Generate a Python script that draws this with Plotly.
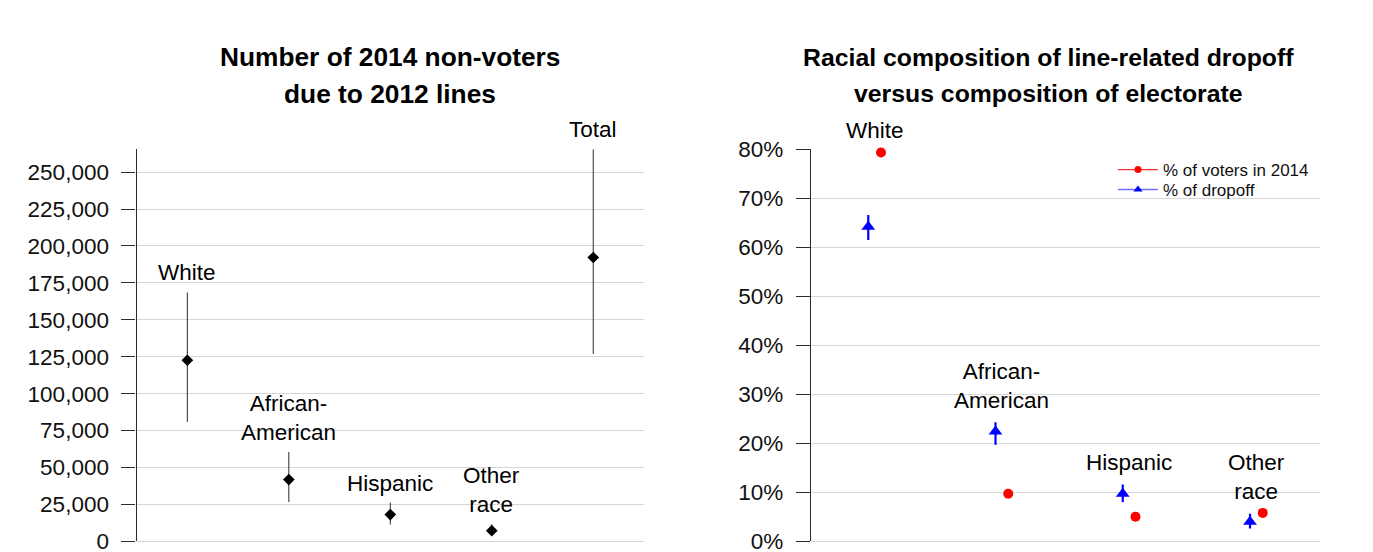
import plotly.graph_objects as go

# Left panel: estimated 2014 non-voters attributable to 2012 lines
groups_left = ["White", "African-<br>American", "Hispanic", "Other<br>race", "Total"]
nonvoters = [122600, 41800, 18100, 7200, 192200]
nonvoters_lo = [80800, 26600, 11300, 4000, 126900]
nonvoters_hi = [168500, 60500, 26200, 11500, 265400]

# Right panel: racial shares of the electorate vs. of line-related dropoff
groups_right = ["White", "African-<br>American", "Hispanic", "Other<br>race"]
voters_share = [0.794, 0.097, 0.050, 0.058]
dropoff_share = [0.642, 0.224, 0.097, 0.040]
dropoff_lo = [0.615, 0.197, 0.080, 0.026]
dropoff_hi = [0.666, 0.243, 0.116, 0.056]

title_left = ["Number of 2014 non-voters", "due to 2012 lines"]
title_right = ["Racial composition of line-related dropoff", "versus composition of electorate"]

FONT = "Liberation Sans, Arial, sans-serif"
W, H = 1373, 552
GRID = "#d6d6d6"
AXIS = "#2b2b2b"


def px_x(p):
    return p / W


def px_y(p):
    return (H - p) / H


fig = go.Figure()

xl = list(range(1, len(groups_left) + 1))
fig.add_trace(go.Scatter(
    x=xl, y=nonvoters, mode="markers", xaxis="x", yaxis="y",
    marker=dict(symbol="diamond", size=9, color="black"),
    error_y=dict(type="data", symmetric=False,
                 array=[h - v for h, v in zip(nonvoters_hi, nonvoters)],
                 arrayminus=[v - l for l, v in zip(nonvoters_lo, nonvoters)],
                 color=AXIS, thickness=1, width=0),
    showlegend=False, cliponaxis=False,
))

xr = list(range(1, len(groups_right) + 1))
off = 0.05
fig.add_trace(go.Scatter(
    x=[i - off for i in xr], y=dropoff_share, mode="markers", xaxis="x2", yaxis="y2",
    marker=dict(symbol="triangle-up", size=12, color="#0000ff"),
    error_y=dict(type="data", symmetric=False,
                 array=[h - v for h, v in zip(dropoff_hi, dropoff_share)],
                 arrayminus=[v - l for l, v in zip(dropoff_lo, dropoff_share)],
                 color="#0000ff", thickness=2.2, width=0),
    showlegend=False, cliponaxis=False,
))
fig.add_trace(go.Scatter(
    x=[i + off for i in xr], y=voters_share, mode="markers", xaxis="x2", yaxis="y2",
    marker=dict(symbol="circle", size=10, color="#ff0000"),
    showlegend=False, cliponaxis=False,
))

# legend keys (line + marker), one legend box per row
fig.add_trace(go.Scatter(
    x=[None], y=[None], mode="lines+markers", xaxis="x2", yaxis="y2",
    name="% of voters in 2014", legend="legend",
    line=dict(color="#ff3030", width=1.2),
    marker=dict(symbol="circle", size=7, color="#ff0000"),
))
fig.add_trace(go.Scatter(
    x=[None], y=[None], mode="lines+markers", xaxis="x2", yaxis="y2",
    name="% of dropoff", legend="legend2",
    line=dict(color="#7070ff", width=1.6),
    marker=dict(symbol="triangle-up", size=8, color="#0000ff"),
))

annotations = []
# category labels sit above the highest mark of each group
for i, (g, hi) in enumerate(zip(groups_left, nonvoters_hi)):
    annotations.append(dict(
        x=xl[i], y=hi, xref="x", yref="y", text=g, showarrow=False,
        xanchor="center", yanchor="bottom", yshift=5,
        font=dict(family=FONT, size=22.5, color="black"), align="center",
    ))
for i, g in enumerate(groups_right):
    top = max(dropoff_hi[i], voters_share[i])
    annotations.append(dict(
        x=xr[i], y=top, xref="x2", yref="y2", text=g, showarrow=False,
        xanchor="center", yanchor="bottom", yshift=7,
        font=dict(family=FONT, size=22.5, color="black"), align="center",
    ))

# panel titles, one line per annotation
for lines, cx, fs in ((title_left, 390, 26.3), (title_right, 1048, 24.8)):
    for k, line in enumerate(lines):
        annotations.append(dict(
            x=px_x(cx), y=px_y(57 + 37 * k), xref="paper", yref="paper",
            text="<b>%s</b>" % line, showarrow=False,
            xanchor="center", yanchor="middle",
            font=dict(family=FONT, size=fs, color="black"),
        ))

yax_common = dict(
    showline=True, linecolor=AXIS, linewidth=1.3,
    ticks="outside", ticklen=14, tickwidth=1.3, tickcolor=AXIS,
    tickfont=dict(family=FONT, size=22.5, color="#111"),
    showgrid=True, gridcolor=GRID, gridwidth=1.3,
    zeroline=True, zerolinecolor=GRID, zerolinewidth=1.3,
    ticklabelstandoff=8, ticklabeloverflow="allow", automargin=False,
)
xax_common = dict(showline=False, showgrid=False, zeroline=False,
                  showticklabels=False, ticks="", automargin=False)

y_dom = [px_y(541.3), px_y(148.5)]

legend_common = dict(xanchor="left", yanchor="middle", bgcolor="rgba(0,0,0,0)",
                     itemwidth=40,
                     font=dict(family=FONT, size=17, color="#111"))

fig.update_layout(
    width=W, height=H,
    margin=dict(l=0, r=0, t=0, b=0, autoexpand=False),
    paper_bgcolor="white", plot_bgcolor="white",
    font=dict(family=FONT, color="black"),
    xaxis=dict(domain=[px_x(136.6), px_x(644)], range=[0.5, 5.5], **xax_common),
    yaxis=dict(domain=y_dom, range=[0, 266000], tickmode="linear", tick0=0, dtick=25000,
               tickformat=",d", anchor="x", **yax_common),
    xaxis2=dict(domain=[px_x(811), px_x(1320)], range=[0.5, 4.5], anchor="y2", **xax_common),
    yaxis2=dict(domain=y_dom, range=[0, 0.802], tickmode="linear", tick0=0, dtick=0.1,
                tickformat=".0%", anchor="x2", **yax_common),
    legend=dict(x=px_x(1113), y=px_y(170), **legend_common),
    legend2=dict(x=px_x(1113), y=px_y(190), **legend_common),
    annotations=annotations,
    showlegend=True,
)

fig.write_html("out.html")
